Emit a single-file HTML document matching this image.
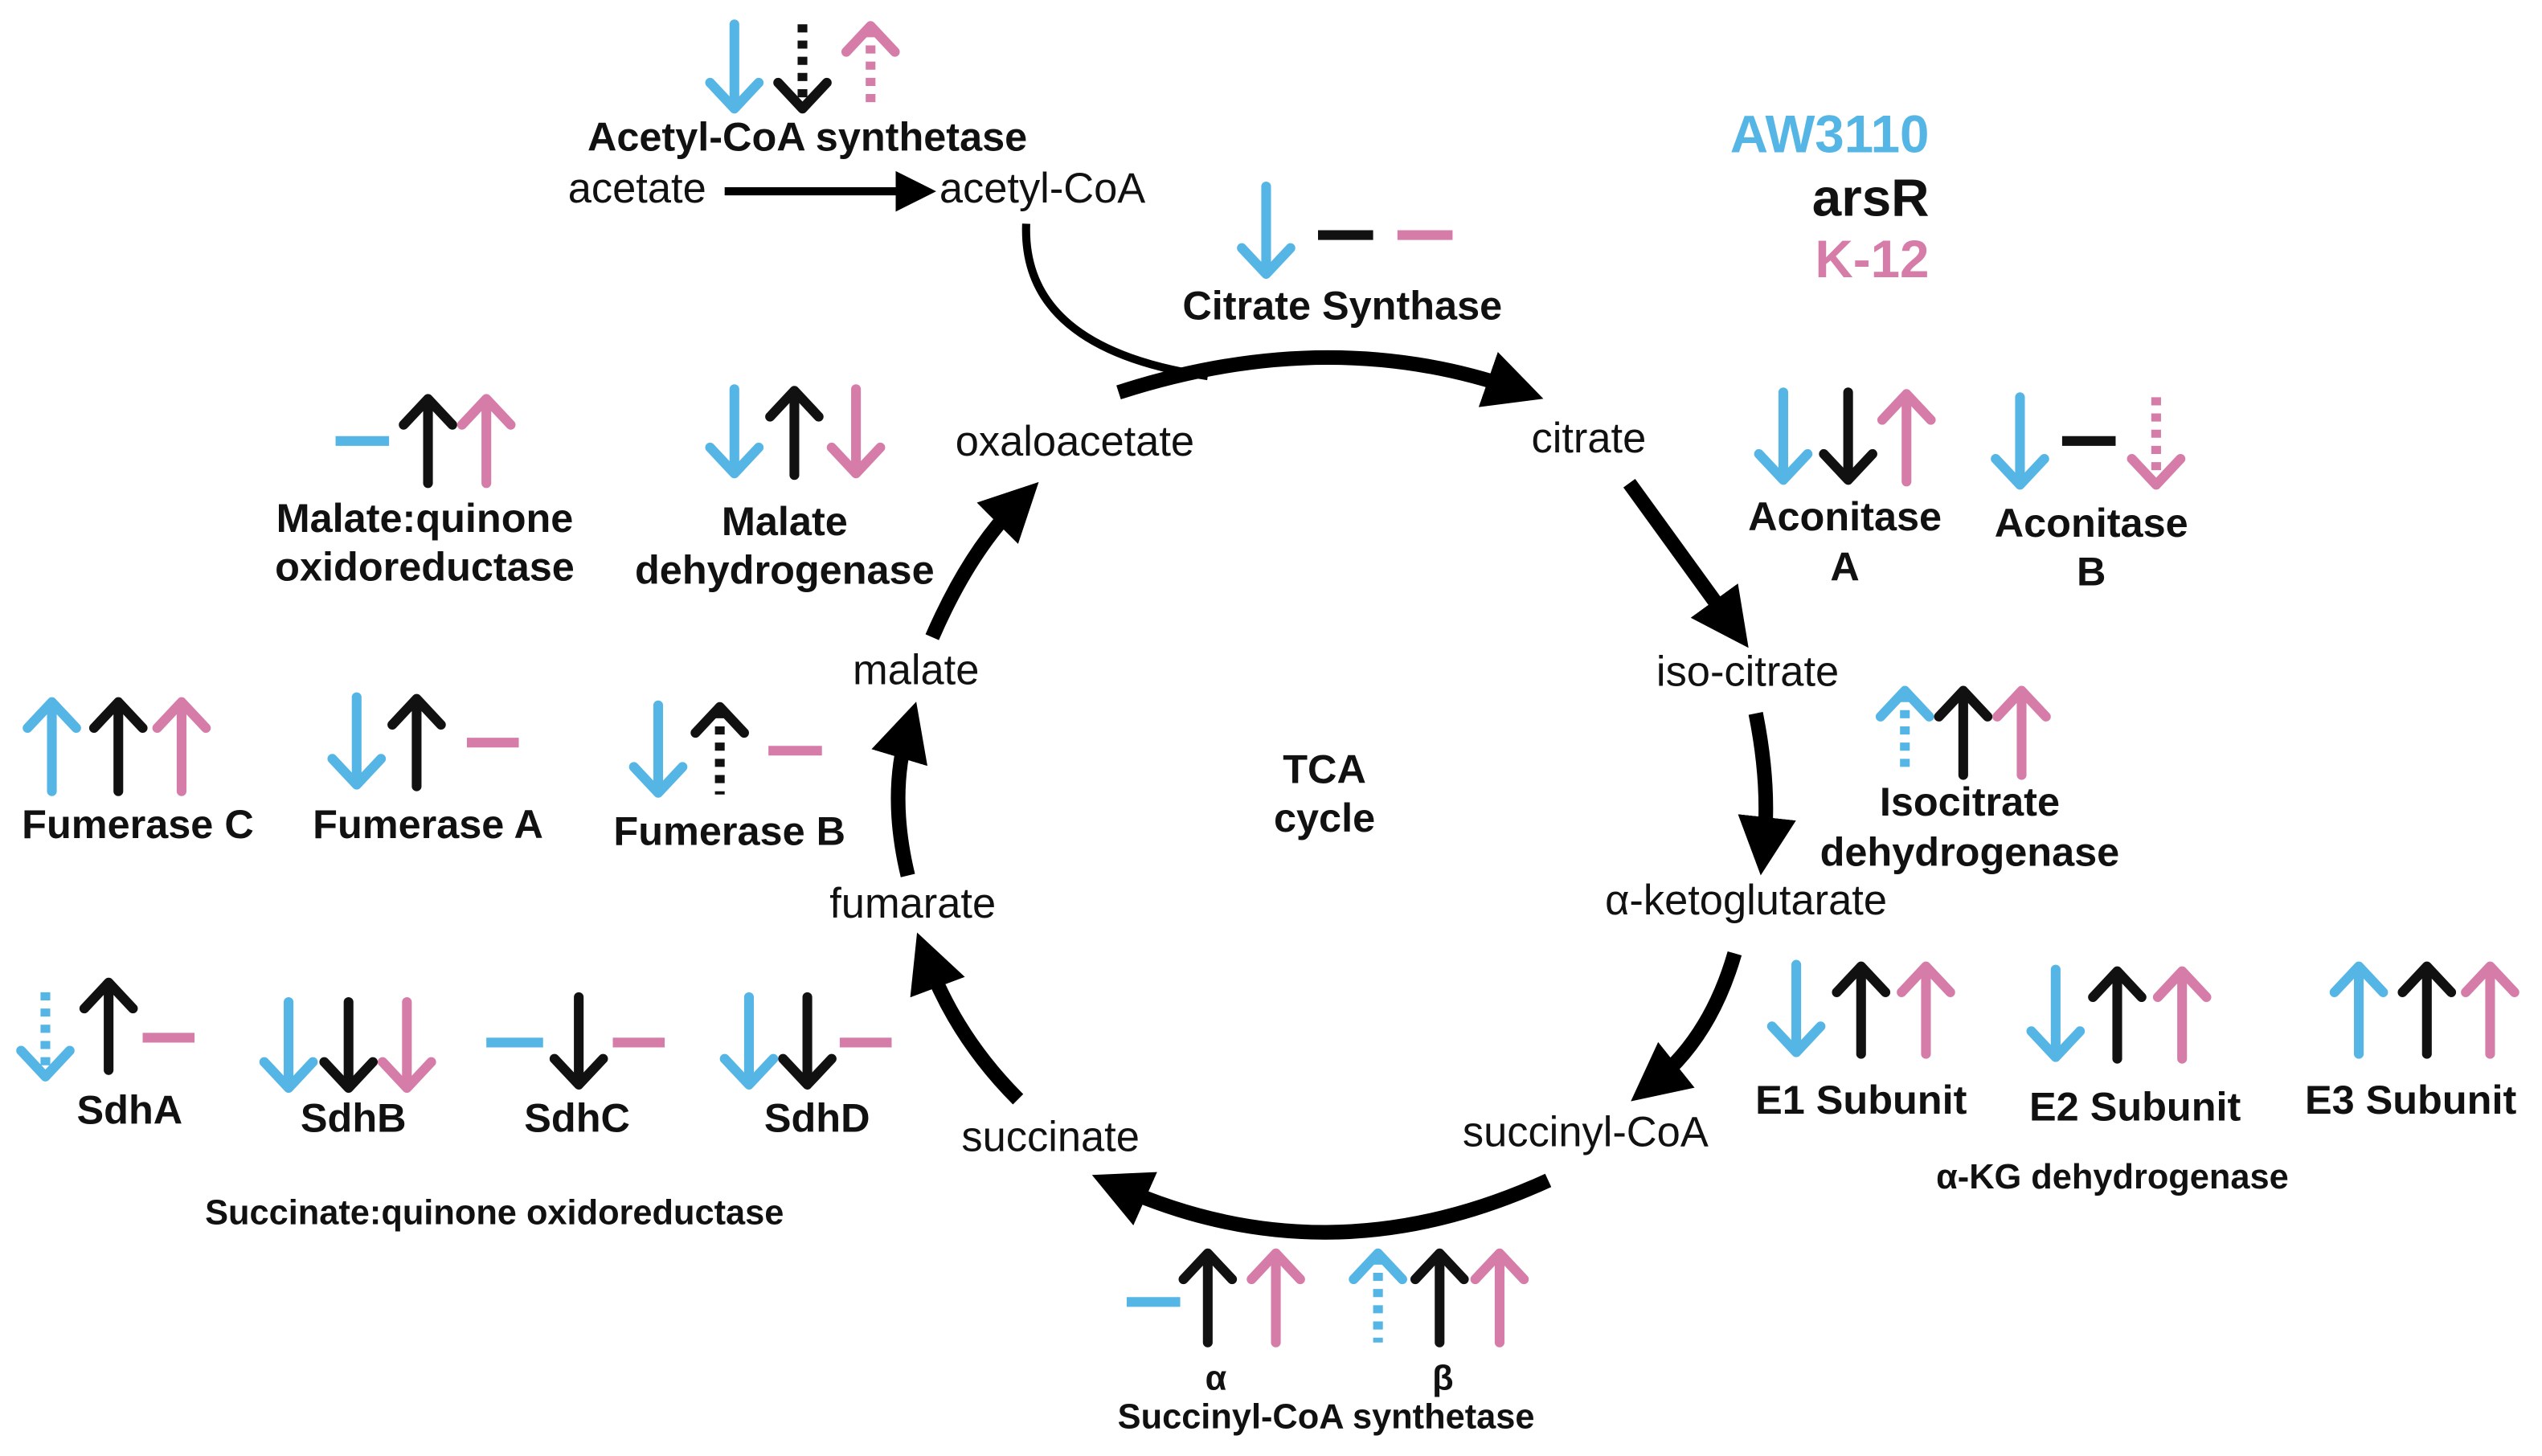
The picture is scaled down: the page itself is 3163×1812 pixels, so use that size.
<!DOCTYPE html>
<html><head><meta charset="utf-8"><style>
html,body{margin:0;padding:0;background:#fff;}
svg{display:block;}
text{font-family:"Liberation Sans",Arial,sans-serif;}
.b{font-weight:bold;font-size:25px;fill:#111;}
.n{font-size:26px;fill:#111;}
.s{font-weight:bold;font-size:21.5px;fill:#111;}
</style></head><body>
<svg width="3163" height="1812" viewBox="0 0 1568 898" preserveAspectRatio="none" xmlns="http://www.w3.org/2000/svg">
<defs>
<marker id="h" markerWidth="4" markerHeight="4" refX="2" refY="2" orient="auto" markerUnits="strokeWidth"><path d="M0,0 L4,2 L0,4 z" fill="#000"/></marker>
<marker id="h2" markerWidth="5" markerHeight="5" refX="2.5" refY="2.5" orient="auto" markerUnits="strokeWidth"><path d="M0,0 L5,2.5 L0,5 z" fill="#000"/></marker>
</defs>
<g fill="none" stroke-linecap="round" stroke-linejoin="round" stroke-width="6" id="arrows">
</g>
<g fill="none" stroke="#000" stroke-width="9">
<path d="M690,242 Q820,200 935,240" marker-end="url(#h)"/>
<path d="M633,138 Q630,215 745,232" stroke-width="5"/>
<path d="M1005,298 L1068,385" marker-end="url(#h)"/>
<path d="M1083,440 Q1092,485 1088,522" marker-end="url(#h)"/>
<path d="M1070,588 Q1055,640 1020,668" marker-end="url(#h)"/>
<path d="M955,728 Q820,790 690,732" marker-end="url(#h)"/>
<path d="M628,678 Q590,640 572,592" marker-end="url(#h)"/>
<path d="M560,540 Q548,490 560,450" marker-end="url(#h)"/>
<path d="M575,393 Q598,340 628,310" marker-end="url(#h)"/>
</g>
<path d="M447,118 L565,118" stroke="#000" stroke-width="5" fill="none" marker-end="url(#h2)"/>
<script>
(function(){
var g=document.getElementById('arrows');
var C={b:'#55b6e6',k:'#111',p:'#d67ca8'};
function add(tag,attrs){var e=document.createElementNS('http://www.w3.org/2000/svg',tag);for(var k in attrs)e.setAttribute(k,attrs[k]);g.appendChild(e);}
function ln(c,x,y1,y2,d){var a={x1:x,y1:y1,x2:x,y2:y2,stroke:C[c]};if(d){a['stroke-dasharray']='5,5';a['stroke-linecap']='butt';}add('line',a);}
function up(c,x,y1,y2,d){ln(c,x,y1+3,y2,d);add('polyline',{points:(x-15)+','+(y1+17)+' '+x+','+(y1+1)+' '+(x+15)+','+(y1+17),stroke:C[c]});}
function dn(c,x,y1,y2,d){ln(c,x,y1,y2-3,d);add('polyline',{points:(x-15)+','+(y2-17)+' '+x+','+(y2-1)+' '+(x+15)+','+(y2-17),stroke:C[c]});}
function da(c,x1,x2,y){add('line',{x1:x1,y1:y,x2:x2,y2:y,stroke:C[c],'stroke-width':6,'stroke-linecap':'butt'});}
dn('b',453,15,68);dn('k',495,15,68,1);up('p',537,15,68,1);
dn('b',781,115,170);da('k',813,847,145);da('p',862,896,145);
dn('b',1100,242,297);dn('k',1140,242,297);up('p',1176,242,297);
dn('b',1246,245,300);da('k',1272,1305,272);dn('p',1330,245,300,1);
up('b',1175,425,478,1);up('k',1211,425,478);up('p',1247,425,478);
dn('b',1108,595,650);up('k',1148,595,650);up('p',1188,595,650);
dn('b',1268,598,653);up('k',1306,598,653);up('p',1346,598,653);
up('b',1455,595,650);up('k',1497,595,650);up('p',1536,595,650);
da('b',695,728,803);up('k',745,772,828);up('p',787,772,828);
up('b',850,772,828,1);up('k',888,772,828);up('p',925,772,828);
dn('b',28,612,665,1);up('k',67,605,660);da('p',88,120,640);
dn('b',178,618,672);dn('k',215,618,672);dn('p',251,618,672);
da('b',300,335,643);dn('k',357,615,670);da('p',378,410,643);
dn('b',462,615,670);dn('k',498,615,670);da('p',518,550,643);
up('b',32,432,488);up('k',73,432,488);up('p',112,432,488);
dn('b',220,430,485);up('k',257,430,485);da('p',288,320,458);
dn('b',406,435,490);up('k',444,435,490,1);da('p',474,507,463);
da('b',207,240,272);up('k',264,245,298);up('p',300,245,298);
dn('b',453,240,293);up('k',490,240,293);dn('p',528,240,293);
})();
</script>
<g text-anchor="middle">
<text class="b" x="498" y="93">Acetyl-CoA synthetase</text>
<text class="n" x="393" y="125">acetate</text>
<text class="n" x="643" y="125">acetyl-CoA</text>
<text class="b" x="828" y="197">Citrate Synthase</text>
<text class="b" x="1138" y="327">Aconitase</text><text class="b" x="1138" y="358">A</text>
<text class="b" x="1290" y="331">Aconitase</text><text class="b" x="1290" y="361">B</text>
<text class="b" x="1215" y="503">Isocitrate</text><text class="b" x="1215" y="534">dehydrogenase</text>
<text class="b" x="1148" y="687">E1 Subunit</text>
<text class="b" x="1317" y="691">E2 Subunit</text>
<text class="b" x="1487" y="687">E3 Subunit</text>
<text class="s" x="1303" y="733">α-KG dehydrogenase</text>
<text class="s" x="750" y="857">α</text><text class="s" x="890" y="857">β</text>
<text class="s" x="818" y="881">Succinyl-CoA synthetase</text>
<text class="b" x="80" y="693">SdhA</text>
<text class="b" x="218" y="698">SdhB</text>
<text class="b" x="356" y="698">SdhC</text>
<text class="b" x="504" y="698">SdhD</text>
<text class="s" x="305" y="755">Succinate:quinone oxidoreductase</text>
<text class="b" x="85" y="517">Fumerase C</text>
<text class="b" x="264" y="517">Fumerase A</text>
<text class="b" x="450" y="521">Fumerase B</text>
<text class="b" x="262" y="328">Malate:quinone</text><text class="b" x="262" y="358">oxidoreductase</text>
<text class="b" x="484" y="330">Malate</text><text class="b" x="484" y="360">dehydrogenase</text>
<text class="b" x="817" y="483">TCA</text><text class="b" x="817" y="513">cycle</text>
<text class="n" x="663" y="281">oxaloacetate</text>
<text class="n" x="980" y="279">citrate</text>
<text class="n" x="1078" y="423">iso-citrate</text>
<text class="n" x="1077" y="564">α-ketoglutarate</text>
<text class="n" x="978" y="707">succinyl-CoA</text>
<text class="n" x="648" y="710">succinate</text>
<text class="n" x="563" y="566">fumarate</text>
<text class="n" x="565" y="422">malate</text>
</g>
<g text-anchor="end" font-weight="bold" font-size="32.5">
<text x="1190" y="94" fill="#55b6e6">AW3110</text>
<text x="1190" y="133" fill="#111">arsR</text>
<text x="1190" y="171" fill="#d67ca8">K-12</text>
</g>
</svg>
</body></html>
